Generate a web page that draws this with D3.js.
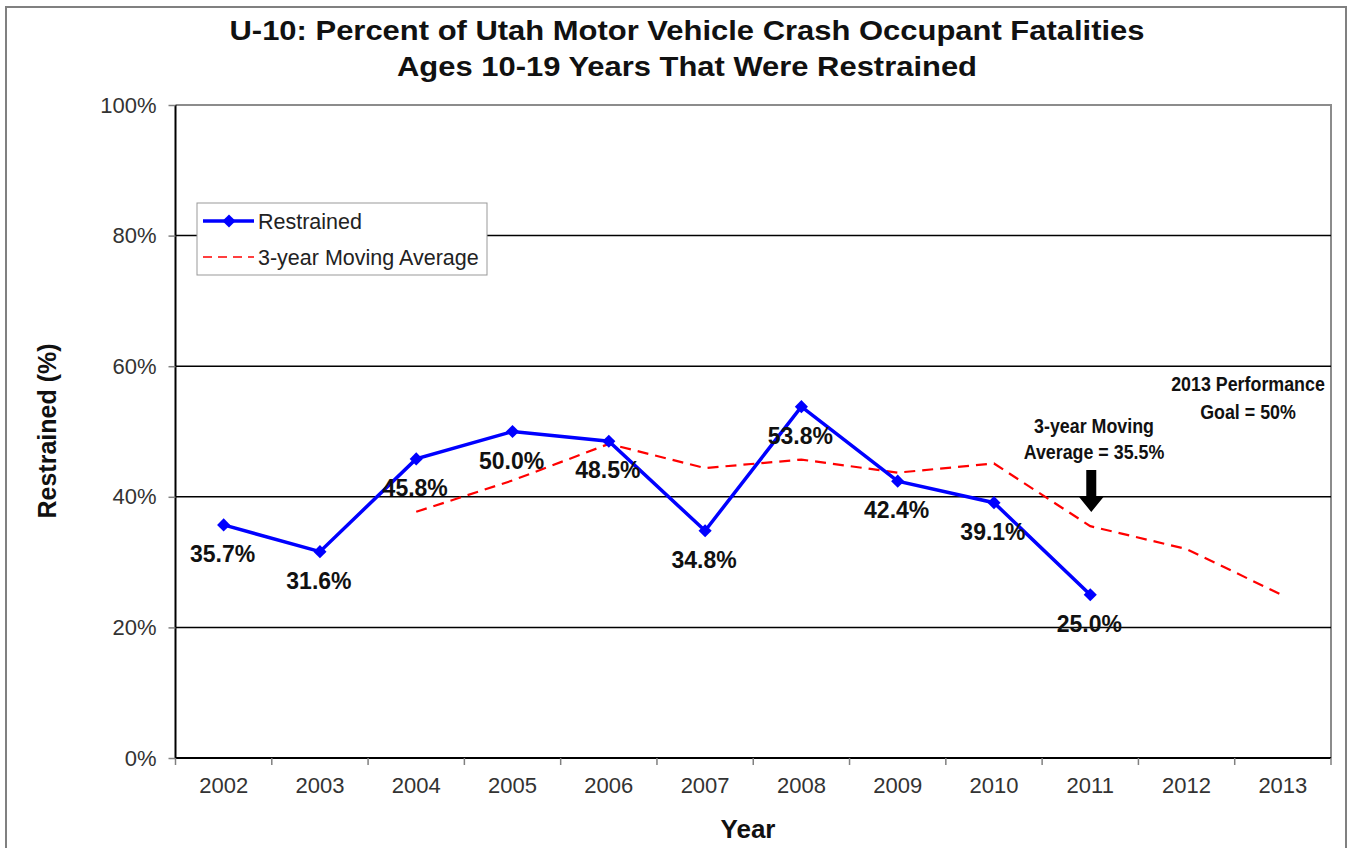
<!DOCTYPE html>
<html>
<head>
<meta charset="utf-8">
<script src="https://cdn.jsdelivr.net/npm/d3@7"></script>
<style>
  body { margin: 0; background: #fff; }
  text { font-family: "Liberation Sans", Arial, sans-serif; }
</style>
</head>
<body>
<div id="content"></div>
<script>
var years = ["2002","2003","2004","2005","2006","2007","2008","2009","2010","2011","2012","2013"];
var restrained = [35.7, 31.6, 45.8, 50.0, 48.5, 34.8, 53.8, 42.4, 39.1, 25.0];
var movingYears = ["2004","2005","2006","2007","2008","2009","2010","2011","2012","2013"];
var movingAvg = [37.7, 42.5, 48.1, 44.4, 45.7, 43.7, 45.1, 35.5, 32.0, 24.9];
var yTicks = [0, 20, 40, 60, 80, 100];

var W = 1350, H = 848;
var plot = {l: 175.5, r: 1331, t: 105, b: 758};

var svg = d3.select("#content")
            .append("svg")
            .attr("width", W)
            .attr("height", H);

// outer frame
svg.append("rect")
   .attr("x", 6).attr("y", 7).attr("width", W - 10).attr("height", H + 20)
   .attr("fill", "none").attr("stroke", "#808080").attr("stroke-width", 2);

var x = d3.scaleBand().domain(years).range([plot.l, plot.r]);
var y = d3.scaleLinear().domain([0, 100]).range([plot.b, plot.t]);
var cx = function(yr) { return x(yr) + x.bandwidth() / 2; };

// plot border (top + right gray)
svg.append("path")
   .attr("d", "M" + plot.l + "," + plot.t + "H" + plot.r + "V" + plot.b)
   .attr("fill", "none").attr("stroke", "#8c8c8c").attr("stroke-width", 2);

// gridlines
svg.append("g")
   .selectAll("line")
   .data([20, 40, 60, 80])
   .enter().append("line")
   .attr("x1", plot.l).attr("x2", plot.r)
   .attr("y1", function(d) { return y(d); })
   .attr("y2", function(d) { return y(d); })
   .attr("stroke", "#000").attr("stroke-width", 1.5);

// y axis
var axisY = d3.axisLeft(y).tickValues(yTicks).tickSize(7).tickPadding(12)
              .tickFormat(function(d) { return d + "%"; });
var axisYG = svg.append("g")
                .attr("transform", "translate(" + plot.l + ",0)")
                .call(axisY);
axisYG.select(".domain").attr("stroke", "#000").attr("stroke-width", 2).attr("d", "M0," + plot.t + "V" + plot.b);
axisYG.selectAll(".tick line").attr("stroke", "#808080").attr("stroke-width", 1.5);
axisYG.selectAll(".tick text").attr("font-size", 22).attr("fill", "#333")
      .attr("font-family", "Liberation Sans, Arial, sans-serif");

// x axis
var axisX = d3.axisBottom(x).tickSize(0).tickPadding(19);
var axisXG = svg.append("g")
                .attr("transform", "translate(0," + plot.b + ")")
                .call(axisX);
axisXG.select(".domain").attr("stroke", "#000").attr("stroke-width", 2).attr("d", "M" + plot.l + ",0H" + plot.r);
axisXG.selectAll(".tick text").attr("font-size", 22).attr("fill", "#333")
      .attr("font-family", "Liberation Sans, Arial, sans-serif");
svg.append("g").selectAll("line")
   .data(years.concat(["end"]))
   .enter().append("line")
   .attr("x1", function(d) { return d === "end" ? plot.r : x(d); })
   .attr("x2", function(d) { return d === "end" ? plot.r : x(d); })
   .attr("y1", plot.b).attr("y2", plot.b + 7)
   .attr("stroke", "#808080").attr("stroke-width", 1.5);

// moving average
var lineAvg = d3.line()
                .x(function(d, i) { return cx(movingYears[i]); })
                .y(function(d) { return y(d); });
svg.append("path")
   .datum(movingAvg)
   .attr("d", lineAvg)
   .attr("fill", "none").attr("stroke", "#ff0000").attr("stroke-width", 2.2)
   .attr("stroke-dasharray", "11,7");

// restrained
var lineR = d3.line()
              .x(function(d, i) { return cx(years[i]); })
              .y(function(d) { return y(d); });
svg.append("path")
   .datum(restrained)
   .attr("d", lineR)
   .attr("fill", "none").attr("stroke", "#0000ff").attr("stroke-width", 3.5);

var diamond = d3.symbol().type(d3.symbolDiamond2).size(110);
svg.append("g").selectAll("path")
   .data(restrained)
   .enter().append("path")
   .attr("d", diamond)
   .attr("transform", function(d, i) { return "translate(" + cx(years[i]) + "," + y(d) + ")"; })
   .attr("fill", "#0000ff");

svg.append("g").selectAll("text")
   .data(restrained)
   .enter().append("text")
   .attr("x", function(d, i) { return cx(years[i]) - 1; })
   .attr("y", function(d) { return y(d) + 37; })
   .attr("text-anchor", "middle")
   .attr("font-size", 23).attr("font-weight", "bold").attr("fill", "#111")
   .text(function(d) { return d.toFixed(1) + "%"; });

// legend
var lg = svg.append("g").attr("transform", "translate(197,203)");
lg.append("rect").attr("width", 290).attr("height", 72)
  .attr("fill", "#fff").attr("stroke", "#999").attr("stroke-width", 1);
lg.append("line").attr("x1", 6).attr("x2", 57).attr("y1", 18).attr("y2", 18)
  .attr("stroke", "#0000ff").attr("stroke-width", 3.5);
lg.append("path").attr("d", diamond).attr("transform", "translate(32,18)").attr("fill", "#0000ff");
lg.append("text").attr("x", 61).attr("y", 26).attr("font-size", 21.5).attr("fill", "#222").text("Restrained");
lg.append("line").attr("x1", 6).attr("x2", 57).attr("y1", 54).attr("y2", 54)
  .attr("stroke", "#ff0000").attr("stroke-width", 1.5).attr("stroke-dasharray", "9,6");
lg.append("text").attr("x", 61).attr("y", 62).attr("font-size", 21.5).attr("fill", "#222").text("3-year Moving Average");

// annotations (narrow bold, squeezed horizontally)
var goal = svg.append("g").attr("transform", "translate(1248,0) scale(0.85,1)")
              .append("text").attr("text-anchor", "middle").attr("font-size", 21)
              .attr("font-weight", "bold").attr("fill", "#111");
goal.append("tspan").attr("x", 0).attr("y", 391).text("2013 Performance");
goal.append("tspan").attr("x", 0).attr("y", 419).text("Goal = 50%");

var ma = svg.append("g").attr("transform", "translate(1094,0) scale(0.85,1)")
            .append("text").attr("text-anchor", "middle").attr("font-size", 21)
            .attr("font-weight", "bold").attr("fill", "#111");
ma.append("tspan").attr("x", 0).attr("y", 433).text("3-year Moving");
ma.append("tspan").attr("x", 0).attr("y", 459).text("Average = 35.5%");

var ax = cx("2011") + 1;
svg.append("path")
   .attr("d", "M" + (ax - 5) + ",470H" + (ax + 5) + "V496H" + (ax + 13) + "L" + ax + ",512L" + (ax - 13) + ",496H" + (ax - 5) + "Z")
   .attr("fill", "#000");

// titles
var title = svg.append("text").attr("text-anchor", "middle").attr("font-size", 28)
               .attr("font-weight", "bold").attr("fill", "#111");
title.append("tspan").attr("x", 687).attr("y", 40).attr("textLength", 915)
     .attr("lengthAdjust", "spacingAndGlyphs").text("U-10: Percent of Utah Motor Vehicle Crash Occupant Fatalities");
title.append("tspan").attr("x", 687).attr("y", 76).attr("textLength", 580)
     .attr("lengthAdjust", "spacingAndGlyphs").text("Ages 10-19 Years That Were Restrained");

svg.append("text").attr("x", 748).attr("y", 838).attr("text-anchor", "middle")
   .attr("font-size", 26).attr("font-weight", "bold").attr("fill", "#111").text("Year");

svg.append("text").attr("transform", "translate(56,431) rotate(-90)").attr("text-anchor", "middle")
   .attr("font-size", 25).attr("font-weight", "bold").attr("fill", "#111").text("Restrained (%)");
</script>
</body>
</html>
